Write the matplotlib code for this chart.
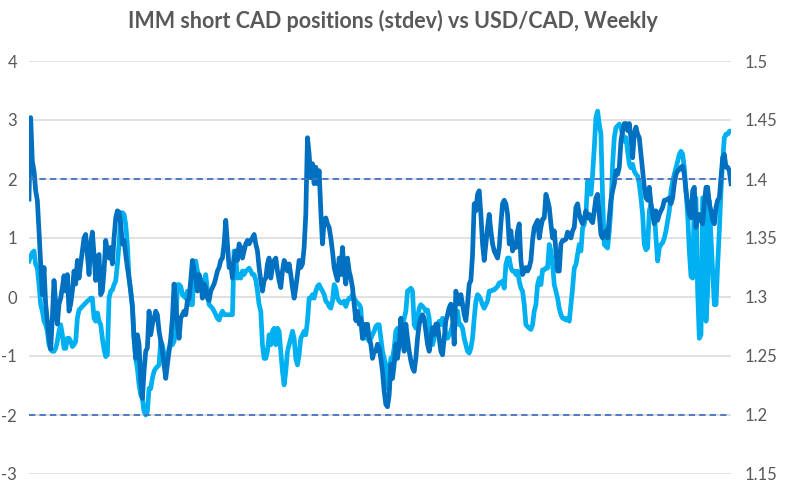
import numpy as np
import matplotlib
matplotlib.use("Agg")
import matplotlib.pyplot as plt
from matplotlib import transforms

plt.rcParams['font.family'] = ['Lato', 'DejaVu Sans']
plt.rcParams['axes.unicode_minus'] = False

title = "IMM short CAD positions (stdev) vs USD/CAD, Weekly"

# IMM short CAD positions, standard deviations (left axis)
imm_stdev = [
    0.61, 0.69, 0.75, 0.78, 0.55, 0.49, 0.21, -0.13, -0.24, -0.41, -0.47, -0.58, -0.81, -0.89, -0.92, -0.92,
    -0.87, -0.75, -0.58, -0.47, -0.64, -0.87, -0.87, -0.70, -0.70, -0.75, -0.84, -0.81, -0.75, -0.36, -0.22,
    -0.19, -0.16, -0.13, -0.10, -0.07, -0.05, -0.02, -0.02, -0.36, -0.41, -0.27, -0.41, -0.47, -0.70, -0.89,
    -1.01, -0.98, -0.02, 0.10, 0.12, 0.21, 0.27, 0.55, 0.89, 1.40, 1.43, 1.40, 1.23, 0.89, 0.32, 0.10, -0.13,
    -0.70, -1.04, -1.21, -1.49, -1.66, -1.72, -1.94, -2.00, -1.94,
    -1.55, -1.55, -1.38, -1.26, -1.21, -1.18, -1.15, -0.75, -0.81, -0.98,
    -1.15, -1.04, -0.87, -0.81, -0.81, -0.75, -0.58, 0.21, 0.21, 0.18,
    0.04, 0.01, -0.02, 0.10, -0.07, -0.13, -0.13, 0.55, 0.61, 0.44,
    0.32, 0.21, 0.10, 0.27, 0.38, 0.10, -0.13, -0.16, -0.19, -0.24,
    -0.30, -0.36, -0.39, -0.30, -0.24, -0.30, -0.30, -0.30, -0.30, -0.30,
    -0.30, 0.78, 0.66, 0.32, 0.38, 0.32, 0.44, 0.38, 0.44, 0.46,
    0.49, 0.44, 0.38, 0.38, 0.29, 0.10, -0.13, -0.24, -0.81, -1.04,
    -1.04, -0.92, -0.64, -0.81, -0.58, -0.53, -0.81, -0.53, -0.58, -0.92,
    -1.26, -1.49, -1.26, -0.92, -0.81, -0.70, -0.58, -0.70, -1.04, -1.15,
    -0.98, -0.70, -0.64, -0.58, -0.64, -0.41, -0.02, -0.02, 0.04, -0.02,
    0.10, 0.18, 0.21, 0.15, 0.10, 0.04, -0.07, -0.10, -0.16, -0.19,
    -0.07, 0.21, 0.15, -0.02, -0.07, -0.10, -0.10, -0.07, -0.16, -0.07,
    -0.02, -0.02, 0.04, -0.02, -0.07, -0.10, -0.13, -0.19, -0.70, -0.70,
    -0.64, -0.70, -0.75, -0.70, -0.64, -0.58, -0.50, -0.47, -0.47, -0.70,
    -0.92, -1.04,
    -1.15, -1.55, -1.38, -1.04, -1.04, -0.87, -0.58, -0.53, -0.58, -0.70,
    -0.47, -0.36, -0.24, 0.10, 0.12, 0.15, 0.10, -0.47, -0.53, -0.36,
    -0.19, -0.13, -0.16, -0.19, -0.24, -0.22, -0.36, -0.75, -0.81, -0.70,
    -0.58, -0.47, -0.41, -0.47, -0.36, -0.47, -0.64, -0.70, -0.64, -0.58,
    -0.47, -0.41, -0.24, -0.24, -0.47, -0.47, -0.53, -0.70, -0.81, -0.92,
    -0.95, -0.87, -0.70, -0.36, -0.07, 0.04, 0.01, -0.05, -0.13, -0.19,
    -0.13, -0.07, 0.10, 0.10, 0.12, 0.12, 0.15, 0.18, 0.24, 0.24,
    0.27, 0.15,
    0.55, 0.66, 0.66, 0.49, 0.44, 0.44, 0.38, 0.44, 0.27, 0.15,
    0.10, -0.13, -0.47, -0.50, -0.53, -0.55, -0.47, -0.24, -0.13, 0.21,
    0.32, 0.21, 0.46, 0.46, 0.49, 0.49, 0.89, 0.78, 0.55, 0.21,
    0.10, -0.02, -0.19, -0.30, -0.36, -0.36, -0.39, -0.36, -0.41, -0.13,
    0.15, 0.49, 0.55, 0.72, 0.89, 0.78, 1.17, 1.23, 1.40, 1.96,
    1.91, 1.74, 2.08, 2.53, 3.04, 3.15, 2.93, 2.76, 1.68, 0.89,
    0.86, 0.83, 1.12, 1.51, 2.25, 2.70, 2.87, 2.90, 2.93, 2.87,
    2.76, 2.64,
    2.70, 2.47, 2.25, 2.19, 2.25, 2.13, 2.08, 2.05, 1.91, 1.68,
    1.40, 0.89, 0.80, 0.83, 1.46, 1.57, 1.40, 1.46, 1.00, 0.61,
    0.83, 0.89, 0.92, 1.00, 1.12, 1.29, 1.46, 1.80, 1.96, 2.08,
    2.19, 2.30, 2.42, 2.47, 2.42, 2.19, 1.80, 1.40, 0.78, 0.35,
    0.32, 1.68, 1.68, 0.10, -0.70, -0.64, 1.68, 1.68, -0.41, 0.10,
    1.63, 1.00, 0.44, -0.13, -0.13, 0.55, 1.12, 1.80, 2.30, 2.70,
    2.76, 2.76, 2.81, 2.81,
]

# USD/CAD weekly (right axis)
usdcad = [
    1.383, 1.452, 1.415, 1.407, 1.390, 1.382, 1.356, 1.328, 1.302, 1.325, 1.294, 1.280, 1.265, 1.256, 1.282,
    1.314, 1.294, 1.277, 1.294, 1.299, 1.308, 1.318, 1.305, 1.319, 1.288, 1.294, 1.305, 1.322, 1.311, 1.331,
    1.316, 1.328, 1.339, 1.350, 1.353, 1.336, 1.319, 1.345, 1.355, 1.336, 1.314, 1.333, 1.336, 1.302, 1.305,
    1.322, 1.348, 1.339, 1.333, 1.342, 1.328, 1.350, 1.367, 1.373, 1.372, 1.362, 1.345, 1.348, 1.336, 1.325,
    1.316, 1.305, 1.291, 1.265, 1.248, 1.268, 1.260, 1.229, 1.214, 1.237, 1.254, 1.257,
    1.288, 1.268, 1.277, 1.282, 1.288, 1.285, 1.271, 1.263, 1.254, 1.243,
    1.231, 1.243, 1.254, 1.265, 1.282, 1.311, 1.294, 1.277, 1.265, 1.282,
    1.285, 1.288, 1.285, 1.297, 1.299, 1.314, 1.331, 1.322, 1.316, 1.305,
    1.319, 1.314, 1.299, 1.311, 1.308, 1.299, 1.297, 1.305, 1.308, 1.311,
    1.316, 1.322, 1.325, 1.331, 1.333, 1.345, 1.365, 1.345, 1.325, 1.328,
    1.316, 1.333, 1.339, 1.331, 1.345, 1.342, 1.333, 1.339, 1.345, 1.348,
    1.345, 1.348, 1.350, 1.353, 1.345, 1.339, 1.325, 1.314, 1.305, 1.314,
    1.316, 1.328, 1.333, 1.316, 1.325, 1.331, 1.333, 1.322, 1.314, 1.308,
    1.322, 1.331, 1.328, 1.322, 1.328, 1.319, 1.308, 1.299, 1.308, 1.319,
    1.331, 1.325, 1.328, 1.342, 1.370, 1.435, 1.421, 1.401, 1.413, 1.396,
    1.410, 1.396, 1.407, 1.373, 1.345, 1.365, 1.367, 1.362, 1.359, 1.350,
    1.339, 1.325, 1.319, 1.314, 1.333, 1.319, 1.342, 1.322, 1.311, 1.333,
    1.322, 1.316, 1.308, 1.294, 1.280, 1.288, 1.277, 1.282, 1.265, 1.277,
    1.268, 1.277, 1.265, 1.260, 1.248, 1.254, 1.254, 1.260, 1.257, 1.248,
    1.237, 1.220,
    1.209, 1.207, 1.217, 1.243, 1.231, 1.243, 1.260, 1.248, 1.260, 1.282,
    1.265, 1.254, 1.277, 1.265, 1.254, 1.246, 1.240, 1.237, 1.248, 1.265,
    1.277, 1.282, 1.285, 1.282, 1.271, 1.260, 1.254, 1.265, 1.274, 1.268,
    1.277, 1.277, 1.265, 1.254, 1.251, 1.265, 1.280, 1.285, 1.291, 1.294,
    1.282, 1.260, 1.305, 1.299, 1.294, 1.302, 1.294, 1.285, 1.280, 1.294,
    1.311, 1.314, 1.336, 1.379, 1.373, 1.387, 1.390, 1.370, 1.345, 1.331,
    1.345, 1.359, 1.370, 1.356, 1.345, 1.339, 1.336, 1.333, 1.342, 1.362,
    1.379, 1.382,
    1.379, 1.370, 1.345, 1.356, 1.339, 1.345, 1.342, 1.356, 1.362, 1.331,
    1.319, 1.322, 1.325, 1.322, 1.325, 1.331, 1.348, 1.359, 1.362, 1.365,
    1.350, 1.359, 1.366, 1.367, 1.387, 1.382, 1.376, 1.362, 1.350, 1.356,
    1.339, 1.322, 1.322, 1.345, 1.348, 1.348, 1.349, 1.355, 1.353, 1.350,
    1.356, 1.359, 1.376, 1.379, 1.370, 1.365, 1.362, 1.367, 1.373, 1.367,
    1.370, 1.365, 1.363, 1.373, 1.384, 1.387, 1.370, 1.353, 1.350, 1.353,
    1.356, 1.350, 1.367, 1.382, 1.390, 1.396, 1.407, 1.404, 1.410, 1.432,
    1.441, 1.447,
    1.447, 1.441, 1.447, 1.435, 1.418, 1.438, 1.444, 1.438, 1.435, 1.421,
    1.407, 1.393, 1.384, 1.382, 1.393, 1.379, 1.370, 1.362, 1.373, 1.365,
    1.370, 1.373, 1.376, 1.382, 1.382, 1.383, 1.384, 1.379, 1.384, 1.396,
    1.404, 1.407, 1.408, 1.410, 1.411, 1.404, 1.390, 1.379, 1.370, 1.367,
    1.390, 1.393, 1.359, 1.367, 1.370, 1.365, 1.362, 1.379, 1.393, 1.393,
    1.379, 1.373, 1.365, 1.362, 1.376, 1.382, 1.384, 1.401, 1.418, 1.421,
    1.410, 1.410, 1.407, 1.396,
]

threshold_levels = [2, -2]
left_ticks = [-3, -2, -1, 0, 1, 2, 3, 4]
left_labels = ["-3", "-2", "-1", "0", "1", "2", "3", "4"]
right_ticks = [1.15, 1.2, 1.25, 1.3, 1.35, 1.4, 1.45, 1.5]
right_labels = ["1.15", "1.2", "1.25", "1.3", "1.35", "1.4", "1.45", "1.5"]

GREY = "#595959"
fig = plt.figure(figsize=(7.86, 4.84), dpi=100)
ax = fig.add_axes([29 / 786, 1 - 474 / 484, (731 - 29) / 786, (474 - 61) / 484])
ax2 = ax.twinx()

x1 = np.arange(len(imm_stdev))
x2 = np.arange(len(usdcad))
n = max(len(imm_stdev), len(usdcad)) - 1

ax.plot(x1, imm_stdev, color="#00B0F0", lw=3.4, solid_joinstyle="round", zorder=3)
ax2.plot(x2, usdcad, color="#0070C0", lw=3.4, solid_joinstyle="round", zorder=3)

trans = transforms.blended_transform_factory(ax2.transAxes, ax.transData)
for lvl in threshold_levels:
    ax2.plot([0, 0.994], [lvl, lvl], transform=trans, color="#4472C4", lw=1.3,
             linestyle=(0, (3.5, 2.3)), zorder=5)

ax.set_ylim(-3, 4)
ax2.set_ylim(1.15, 1.5)
ax.set_xlim(0, n)
ax.set_yticks(left_ticks)
ax.set_yticklabels(left_labels)
ax2.set_yticks(right_ticks)
ax2.set_yticklabels(right_labels)
ax.set_xticks([])
ax.grid(axis="y", color="#D9D9D9", lw=1.1)
ax.set_axisbelow(True)
for a in (ax, ax2):
    for s in a.spines.values():
        s.set_visible(False)
    a.tick_params(length=0, labelsize=12, labelcolor=GREY)
ax.tick_params(axis="y", pad=8.5)
ax2.tick_params(axis="y", pad=10)

fig.text(0.5, 0.956, title, ha="center", va="center", fontsize=15.5,
         fontweight="bold", color=GREY)

fig.savefig("out.png", dpi=100)
